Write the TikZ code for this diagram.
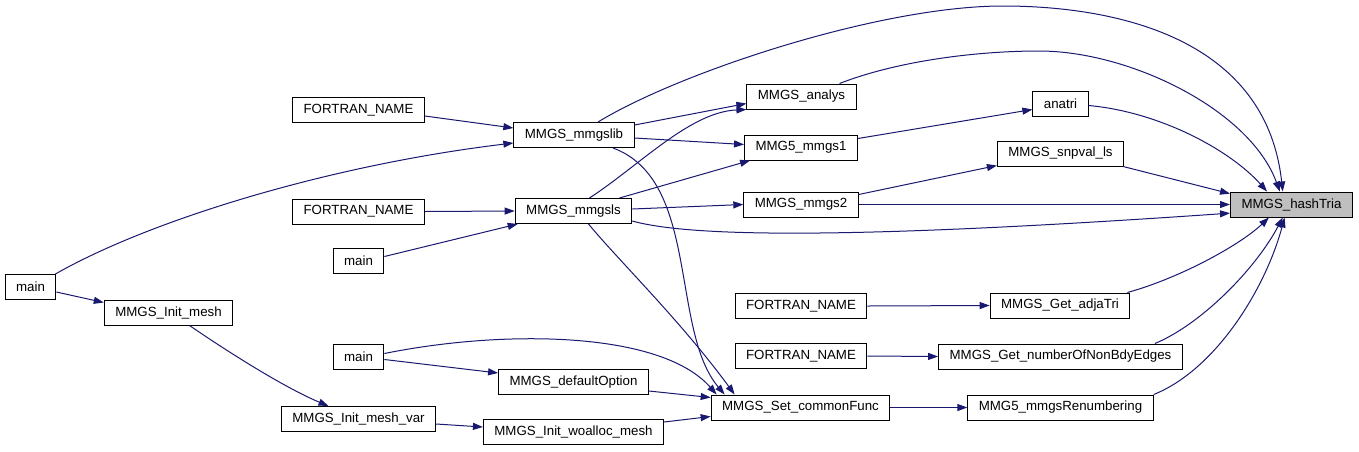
\documentclass[tikz,border=0pt]{standalone}
\usepackage{fontspec}
\setmainfont{Liberation Sans}
\usepackage{xcolor}
\definecolor{EdgeBlue}{HTML}{191970}
\definecolor{RootGray}{HTML}{BFBFBF}
\usepackage{tikz}
\usetikzlibrary{arrows.meta}

\begin{document}
\begin{tikzpicture}[
  x=1pt,y=-1pt,
  box/.style={draw=black,line width=1pt,fill=white,inner xsep=11pt,inner ysep=0pt,minimum height=25pt,font=\fontsize{13.3}{16}\selectfont},
  arr/.style={-{Triangle[length=10pt,width=7pt]},line width=1pt,EdgeBlue}
]
  \useasboundingbox (0,0) rectangle (1359,451);

  % left column
  \node[box] (mainL) at (30.5,287) {main};
  \node[box] (initmesh) at (168.5,312.5) {MMGS\_Init\_mesh};
  \node[box] (fort1) at (358.5,110) {FORTRAN\_NAME};
  \node[box] (fort2) at (358.5,211.5) {FORTRAN\_NAME};
  \node[box] (mainA) at (358.5,260.5) {main};
  \node[box] (mainB) at (358.5,356.5) {main};
  \node[box] (meshvar) at (358.5,419) {MMGS\_Init\_mesh\_var};

  % middle column
  \node[box] (lib) at (574,135) {MMGS\_mmgslib};
  \node[box] (ls) at (573.5,211) {MMGS\_mmgsls};
  \node[box] (defopt) at (573.5,382) {MMGS\_defaultOption};
  \node[box] (woalloc) at (573.5,432) {MMGS\_Init\_woalloc\_mesh};
  \node[box] (analys) at (801.5,96.5) {MMGS\_analys};
  \node[box] (mmgs1) at (801,147.5) {MMG5\_mmgs1};
  \node[box] (mmgs2) at (801,204.5) {MMGS\_mmgs2};
  \node[box] (fort3) at (801,306) {FORTRAN\_NAME};
  \node[box] (fort4) at (801,356) {FORTRAN\_NAME};
  \node[box] (common) at (800.5,407.5) {MMGS\_Set\_commonFunc};

  % right column
  \node[box] (anatri) at (1060.5,103.5) {anatri};
  \node[box] (snpval) at (1060.5,153.5) {MMGS\_snpval\_ls};
  \node[box] (adja) at (1060,305.5) {MMGS\_Get\_adjaTri};
  \node[box] (nonbdy) at (1060.5,356.5) {MMGS\_Get\_numberOfNonBdyEdges};
  \node[box] (renum) at (1060.5,407.5) {MMG5\_mmgsRenumbering};
  \node[box,fill=RootGray] (hash) at (1291.5,204.5) {MMGS\_hashTria};

  % callers of the library entry points
  \draw[arr] ([yshift=-6pt]fort1.east) -- ([yshift=7pt]lib.west);
  \draw[arr] ([xshift=-1pt]mainL.north east) .. controls (150,220) and (330,165) .. ([yshift=-8pt]lib.west);
  \draw[arr] (fort2.east) -- (ls.west);
  \draw[arr] ([yshift=4pt]mainA.east) -- ([xshift=3pt]ls.south west);
  \draw[arr] ([yshift=-5pt]mainL.east) -- ([yshift=10pt]initmesh.west);
  \draw[arr] ([xshift=21pt]initmesh.south) .. controls (240,360) and (290,390) .. ([xshift=-30pt]meshvar.north);
  \draw[arr] ([yshift=-5pt]meshvar.east) -- ([yshift=5pt]woalloc.west);
  \draw[arr] ([yshift=-3pt]mainB.east) -- ([yshift=9pt]defopt.west);
  \draw[arr] ([yshift=3pt]mainB.east) .. controls (500,330) and (660,330) .. ([xshift=6pt]common.north west);

  % mmgslib / mmgsls
  \draw[arr] ([yshift=10pt]lib.east) -- ([yshift=-7pt]analys.west);
  \draw[arr] ([yshift=-3pt]lib.east) -- ([yshift=3pt]mmgs1.west);
  \draw[arr] ([xshift=24pt]lib.north) .. controls (680,72) and (880,6) .. (1003,6)
    .. controls (1100,6) and (1265,30) .. (hash.124);
  \draw[arr] ([xshift=39pt]lib.south) .. controls (700,180) and (670,330) .. ([xshift=14pt]common.north west);
  \draw[arr] ([xshift=16pt]ls.north) .. controls (640,165) and (690,112) .. (analys.south west);
  \draw[arr] ([xshift=46pt]ls.north) -- ([xshift=6pt]mmgs1.south west);
  \draw[arr] ([yshift=2pt]ls.east) -- (mmgs2.west);
  \draw[arr] ([yshift=-10pt]ls.east) .. controls (700,240) and (900,236) .. (hash.188);
  \draw[arr] ([xshift=15pt]ls.south) .. controls (620,262) and (680,320) .. ([xshift=24pt]common.north west);

  % into MMGS_Set_commonFunc
  \draw[arr] ([yshift=-9pt]defopt.east) -- ([yshift=10pt]common.west);
  \draw[arr] ([yshift=10pt]woalloc.east) -- ([yshift=-9pt]common.west);
  \draw[arr] (common.east) -- (renum.west);

  % second level
  \draw[arr] ([xshift=38pt]analys.north) .. controls (900,60) and (980,51) .. (1039,51)
    .. controls (1130,51) and (1250,110) .. (hash.132);
  \draw[arr] ([yshift=9pt]mmgs1.east) -- ([yshift=-6pt]anatri.west);
  \draw[arr] ([yshift=10pt]mmgs2.east) -- ([yshift=1pt]snpval.south west);
  \draw[arr] (mmgs2.east) -- (hash.west);
  \draw[arr] (fort3.east) -- (adja.west);
  \draw[arr] (fort4.east) -- (nonbdy.west);

  % into MMGS_hashTria
  \draw[arr] ([yshift=-2pt]anatri.east) .. controls (1160,112) and (1230,150) .. (hash.152);
  \draw[arr] ([xshift=-1pt]snpval.south east) -- (hash.170);
  \draw[arr] ([xshift=-3pt]adja.north east) .. controls (1180,278) and (1240,245) .. (hash.210);
  \draw[arr] ([xshift=-28pt]nonbdy.north east) .. controls (1200,325) and (1255,270) .. (hash.236);
  \draw[arr] (renum.north east) .. controls (1215,370) and (1265,290) .. (hash.242);
\end{tikzpicture}
\end{document}
